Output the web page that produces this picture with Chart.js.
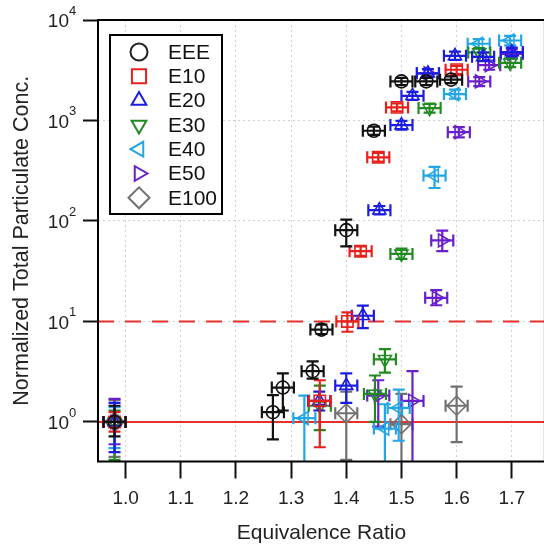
<!DOCTYPE html>
<html>
<head>
<meta charset="utf-8">
<script src="https://cdn.jsdelivr.net/npm/chart.js@4.4.0/dist/chart.umd.min.js"></script>
<style>
  html, body { margin: 0; padding: 0; background: #fff; overflow: hidden; }
</style>
</head>
<body>
<canvas id="pmChart" width="556" height="549"></canvas>
<script>
// [equivalence ratio, conc, lower err, upper err]
const EEE = [
    [0.98, 1.0, 0.72, 1.45],
    [1.267, 1.25, 0.67, 1.85],
    [1.285, 2.2, 1.3, 3.05],
    [1.339, 3.2, 2.7, 4.0],
    [1.355, 8.3, 7.5, 9.3],
    [1.40, 81, 56, 103],
    [1.45, 790, 720, 870],
    [1.50, 2450, 2250, 2650],
    [1.545, 2450, 2250, 2650],
    [1.59, 2550, 2350, 2750],
];
const E10 = [
    [0.98, 1.0, 0.8, 1.25],
    [1.352, 1.62, 0.56, 2.6],
    [1.402, 10.0, 7.9, 12.3],
    [1.426, 50, 45, 56],
    [1.458, 430, 390, 475],
    [1.492, 1350, 1230, 1480],
    [1.60, 3200, 2900, 3500],
];
const E20 = [
    [0.98, 1.0, 0.5, 1.55],
    [1.351, 1.62, 1.3, 2.0],
    [1.40, 2.3, 1.55, 3.05],
    [1.43, 11.4, 8.6, 14.4],
    [1.46, 128, 116, 141],
    [1.50, 900, 810, 990],
    [1.52, 1760, 1600, 1930],
    [1.548, 2950, 2700, 3250],
    [1.597, 4400, 4000, 4850],
    [1.648, 4300, 3900, 4750],
    [1.70, 4800, 4350, 5300],
];
const E30 = [
    [0.98, 1.0, 0.42, 1.3],
    [1.352, 1.45, 0.83, 2.3],
    [1.452, 1.9, 1.0, 2.9],
    [1.47, 4.2, 3.1, 5.3],
    [1.50, 47, 42, 53],
    [1.551, 1330, 1200, 1470],
    [1.641, 4750, 4300, 5250],
    [1.697, 3750, 3400, 4150],
];
const E40 = [
    [0.98, 1.0, 0.55, 1.4],
    [1.324, 1.09, 0.38, 1.83],
    [1.47, 0.86, 0.38, 1.5],
    [1.495, 1.38, 0.65, 2.1],
    [1.56, 283, 213, 345],
    [1.597, 1830, 1650, 2030],
    [1.640, 5800, 5200, 6450],
    [1.697, 6250, 5600, 6950],
];
const E50 = [
    [0.98, 1.0, 0.6, 1.7],
    [1.458, 1.83, 0.9, 2.6],
    [1.52, 1.62, 0.38, 3.2],
    [1.563, 17.2, 14.5, 20.5],
    [1.574, 64, 50, 80],
    [1.604, 765, 680, 860],
    [1.548, 2950, 2700, 3250],
    [1.641, 2450, 2200, 2700],
    [1.659, 3550, 3200, 3950],
    [1.70, 4600, 4150, 5100],
];
const E100 = [
    [0.98, 1.0, 0.45, 1.65],
    [1.40, 1.22, 0.42, 2.0],
    [1.50, 0.95, 0.38, 1.9],
    [1.60, 1.45, 0.63, 2.25],
];
const X_ERR = 0.02;

const seriesNames = ['EEE', 'E10', 'E20', 'E30', 'E40', 'E50', 'E100'];
const xTicks = [1.0, 1.1, 1.2, 1.3, 1.4, 1.5, 1.6, 1.7];
const yTicks = [1, 10, 100, 1000, 10000];
const refLines = [1, 10];

const FONT = "'Liberation Sans', Arial, sans-serif";
const CAP = 6;

const styles = [
    { color: '#111111', shape: 'circle', rot: 0, r: 6.5 },
    { color: '#e8201c', shape: 'rect', rot: 0, r: 8 },
    { color: '#1c1ce0', shape: 'triangle', rot: 0, r: 7.5 },
    { color: '#218a21', shape: 'triangle', rot: 180, r: 7.5 },
    { color: '#22a6e6', shape: 'triangle', rot: 270, r: 7.5 },
    { color: '#6a1fcc', shape: 'triangle', rot: 90, r: 7.5 },
    { color: '#707070', shape: 'rectRot', rot: 0, r: 9.5 },
];

const toPts = rows => rows.map(([x, y, lo, hi]) => ({ x, y, yLo: lo, yHi: hi, xErr: X_ERR }));
const allSeries = [EEE, E10, E20, E30, E40, E50, E100];

const datasets = allSeries.map((rows, i) => ({
    label: seriesNames[i],
    data: toPts(rows),
    borderColor: styles[i].color,
    backgroundColor: 'rgba(0,0,0,0)',
    pointStyle: styles[i].shape,
    pointRotation: styles[i].rot,
    pointRadius: styles[i].r,
    pointBorderWidth: 1.6,
    showLine: false,
}));

// red reference lines at 1 and 10
const refLinePlugin = {
    id: 'refLines',
    beforeDatasetsDraw(chart) {
        const { ctx, chartArea: a, scales: { y } } = chart;
        ctx.save();
        ctx.strokeStyle = '#e8302a';
        ctx.lineWidth = 2;
        refLines.forEach((v, i) => {
            const py = y.getPixelForValue(v);
            ctx.setLineDash(i === 0 ? [] : [16, 11]);
            ctx.beginPath();
            ctx.moveTo(a.left, py);
            ctx.lineTo(a.right, py);
            ctx.stroke();
        });
        ctx.restore();
    }
};

const errorBarPlugin = {
    id: 'errorBars',
    afterDatasetDraw(chart, args) {
        const ds = chart.data.datasets[args.index];
        const { ctx, chartArea: a, scales: { x, y } } = chart;
        ctx.save();
        ctx.beginPath();
        ctx.rect(a.left, a.top, a.right - a.left, a.bottom - a.top);
        ctx.clip();
        ctx.strokeStyle = ds.borderColor;
        ctx.lineWidth = 2.2;
        ds.data.forEach(p => {
            const px = x.getPixelForValue(p.x), py = y.getPixelForValue(p.y);
            const lo = y.getPixelForValue(p.yLo), hi = y.getPixelForValue(p.yHi);
            const l = x.getPixelForValue(p.x - p.xErr), r = x.getPixelForValue(p.x + p.xErr);
            ctx.beginPath();
            ctx.moveTo(px, lo); ctx.lineTo(px, hi);
            ctx.moveTo(px - CAP, lo); ctx.lineTo(px + CAP, lo);
            ctx.moveTo(px - CAP, hi); ctx.lineTo(px + CAP, hi);
            ctx.moveTo(l, py); ctx.lineTo(r, py);
            ctx.moveTo(l, py - CAP); ctx.lineTo(l, py + CAP);
            ctx.moveTo(r, py - CAP); ctx.lineTo(r, py + CAP);
            ctx.stroke();
        });
        ctx.restore();
    }
};

// frame, legend box and the 10^n tick labels
const framePlugin = {
    id: 'frame',
    afterDatasetsDraw(chart) {
        const { ctx, chartArea: a, scales: { y } } = chart;
        ctx.save();
        ctx.strokeStyle = '#000';
        ctx.lineWidth = 2;
        ctx.strokeRect(a.left, a.top, a.right - a.left, a.bottom - a.top);

        // legend
        const bx = a.left + 12, by = a.top + 15, bw = 112, bh = 179;
        ctx.fillStyle = '#fff';
        ctx.fillRect(bx, by, bw, bh);
        ctx.strokeRect(bx, by, bw, bh);
        ctx.font = '21px ' + FONT;
        ctx.textBaseline = 'middle';
        ctx.textAlign = 'left';
        seriesNames.forEach((name, i) => {
            const ry = by + 17 + i * 24.3;
            const st = styles[i];
            ctx.save();
            ctx.strokeStyle = i === 0 ? '#222' : st.color;
            ctx.fillStyle = 'rgba(0,0,0,0)';
            Chart.helpers.drawPoint(ctx, {
                pointStyle: st.shape, rotation: st.rot,
                radius: st.shape === 'rectRot' ? 10.5 : st.shape === 'rect' ? 10 : 8.5,
                borderWidth: 1.2
            }, bx + 29, ry);
            ctx.restore();
            ctx.fillStyle = '#111';
            ctx.fillText(name, bx + 58, ry + 1);
        });

        // y tick labels
        ctx.fillStyle = '#222';
        ctx.textBaseline = 'middle';
        y.ticks.forEach(t => {
            const py = y.getPixelForValue(t.value);
            const e = String(Math.round(Math.log10(t.value)));
            ctx.font = '19px ' + FONT;
            ctx.textAlign = 'right';
            ctx.fillText('10', 69, py + 2);
            ctx.font = '13px ' + FONT;
            ctx.textAlign = 'left';
            ctx.fillText(e, 69, py - 9);
        });
        ctx.restore();
    }
};

new Chart(document.getElementById('pmChart'), {
    type: 'scatter',
    data: { datasets },
    options: {
        responsive: false,
        animation: false,
        layout: { padding: { top: 20, right: 5, left: 0, bottom: 0 } },
        plugins: { legend: { display: false }, tooltip: { enabled: false } },
        scales: {
            x: {
                type: 'linear',
                min: 0.95,
                max: 1.76,
                afterBuildTicks: s => { s.ticks = xTicks.map(v => ({ value: v })); },
                afterFit: s => { s.height = 87.5; },
                grid: { color: '#d0d0d0', lineWidth: 1, tickColor: '#111', tickWidth: 2, tickLength: 17 },
                border: { display: false, dash: [2, 3] },
                ticks: {
                    color: '#222', autoSkip: false, maxRotation: 0, padding: 9,
                    font: { size: 19, family: FONT },
                    callback: v => Number(v).toFixed(1)
                },
                title: {
                    display: true, text: 'Equivalence Ratio', color: '#222',
                    font: { size: 21, family: FONT }, padding: { top: 0, bottom: 3 }
                }
            },
            y: {
                type: 'logarithmic',
                min: 0.404,
                max: 10000,
                afterBuildTicks: s => { s.ticks = yTicks.map(v => ({ value: v })); },
                afterFit: s => { s.width = 98; },
                grid: { color: '#d0d0d0', lineWidth: 1, tickColor: '#111', tickWidth: 2, tickLength: 15 },
                border: { display: false, dash: [2, 3] },
                ticks: { display: false },
                title: {
                    display: true, text: 'Normalized Total Particulate Conc.', color: '#222',
                    font: { size: 21.5, family: FONT }, padding: { top: 9, bottom: 0 }
                }
            }
        }
    },
    plugins: [refLinePlugin, errorBarPlugin, framePlugin]
});
</script>
</body>
</html>
